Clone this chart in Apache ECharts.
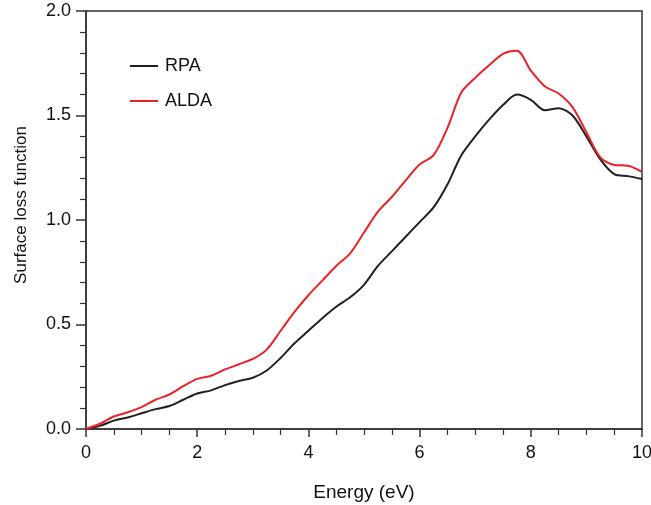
<!DOCTYPE html>
<html><head><meta charset="utf-8">
<script src="https://cdn.jsdelivr.net/npm/echarts@6/dist/echarts.min.js"></script>
<style>html,body{margin:0;padding:0;background:#fff}#c{width:651px;height:505px}</style>
</head><body><div id="c"></div>
<script>
const energy = [0,0.25,0.5,0.75,1,1.25,1.5,1.75,2,2.25,2.5,2.75,3,3.25,3.5,3.75,4,4.25,4.5,4.75,5,5.25,5.5,5.75,6,6.25,6.5,6.75,7,7.25,7.5,7.75,8,8.25,8.5,8.75,9,9.25,9.5,9.75,10];
const rpa = [0,0.015,0.04,0.055,0.075,0.095,0.11,0.14,0.17,0.185,0.21,0.23,0.245,0.28,0.34,0.41,0.47,0.53,0.585,0.63,0.69,0.78,0.85,0.92,0.99,1.06,1.17,1.31,1.40,1.48,1.55,1.60,1.575,1.525,1.535,1.50,1.40,1.29,1.22,1.21,1.196];
const alda = [0,0.025,0.06,0.08,0.105,0.14,0.165,0.205,0.24,0.255,0.285,0.31,0.335,0.38,0.47,0.56,0.64,0.71,0.78,0.84,0.94,1.04,1.11,1.19,1.265,1.31,1.44,1.61,1.68,1.74,1.795,1.81,1.715,1.64,1.605,1.54,1.42,1.30,1.263,1.26,1.23];
const seriesNames = ['RPA','ALDA'];
const xTitle = 'Energy (eV)';
const yTitle = 'Surface loss function';

const font = 'Liberation Sans, Arial, sans-serif';
const chart = echarts.init(document.getElementById('c'));
const pair = arr => energy.map((e,i)=>[e,arr[i]]);
chart.setOption({
  animation:false,
  grid:{left:86,right:9,top:11,bottom:76,outerBoundsMode:'none',containLabel:false,
    show:true,borderColor:'#333',borderWidth:1.5,backgroundColor:'transparent'},
  legend:{orient:'vertical',left:125,top:52,itemWidth:28,itemHeight:2,itemGap:17,
    icon:'rect',
    textStyle:{fontFamily:font,fontSize:18,color:'#111',padding:[0,0,0,2]},data:seriesNames},
  xAxis:{type:'value',min:0,max:10,interval:2,name:xTitle,nameLocation:'middle',nameGap:54,
    nameTextStyle:{fontFamily:font,fontSize:19,color:'#111'},
    axisLine:{lineStyle:{color:'#333',width:1.5}},
    axisTick:{length:8,lineStyle:{color:'#333',width:1.5}},
    minorTick:{show:true,splitNumber:4,length:6,lineStyle:{color:'#333',width:1.2}},
    axisLabel:{fontFamily:font,fontSize:18,color:'#111',margin:15},
    splitLine:{show:false}},
  yAxis:{type:'value',min:0,max:2,interval:0.5,name:yTitle,nameLocation:'middle',nameGap:56,
    nameTextStyle:{fontFamily:font,fontSize:17,color:'#111',padding:[0,0,0,30]},
    axisLine:{lineStyle:{color:'#333',width:1.5}},
    axisTick:{length:10,lineStyle:{color:'#333',width:1.5}},
    minorTick:{show:true,splitNumber:5,length:6,lineStyle:{color:'#333',width:1.2}},
    axisLabel:{fontFamily:font,fontSize:18,color:'#111',margin:15,formatter:v=>v.toFixed(1)},
    splitLine:{show:false}},
  series:[
    {name:seriesNames[0],type:'line',data:pair(rpa),symbol:'none',smooth:0.3,
     lineStyle:{color:'#231f20',width:2},itemStyle:{color:'#231f20'}},
    {name:seriesNames[1],type:'line',data:pair(alda),symbol:'none',smooth:0.3,
     lineStyle:{color:'#ea2128',width:2},itemStyle:{color:'#ea2128'}}
  ]
});
</script></body></html>
